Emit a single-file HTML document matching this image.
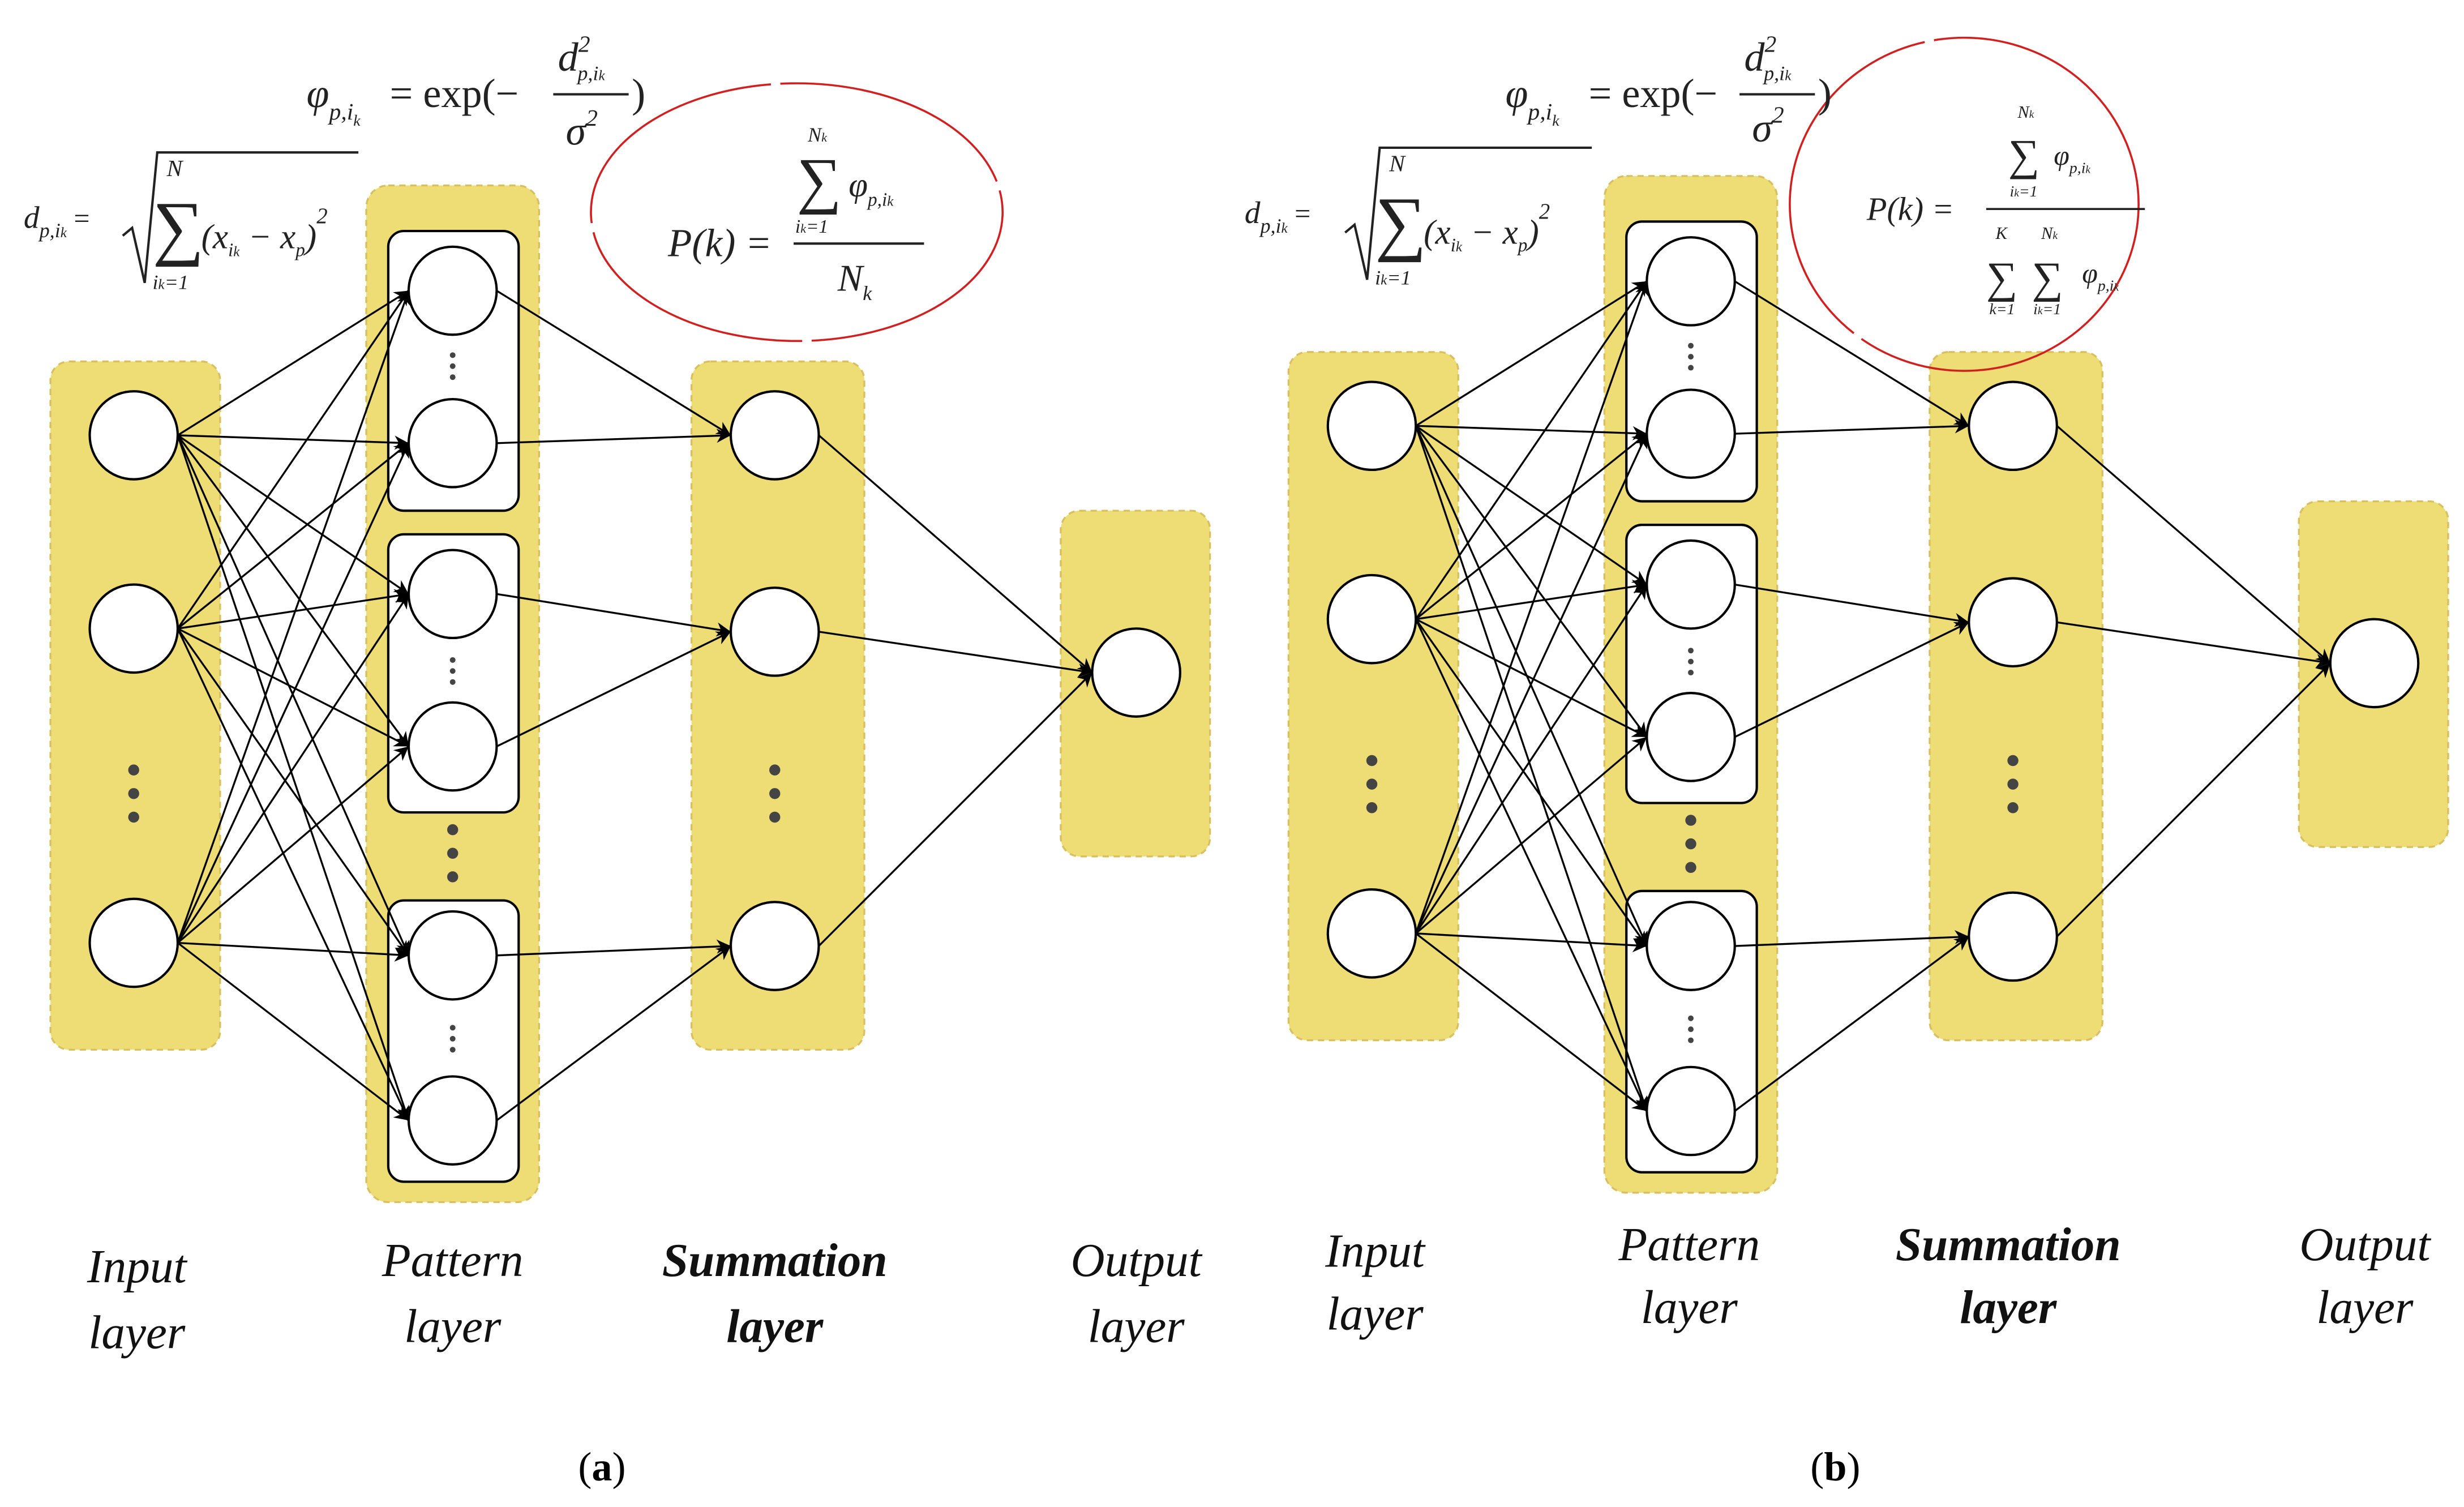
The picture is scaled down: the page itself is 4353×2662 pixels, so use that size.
<!DOCTYPE html>
<html><head><meta charset="utf-8"><style>html,body{margin:0;padding:0;background:#fff}svg{display:block}</style></head>
<body>
<svg width="4353" height="2662" viewBox="0 0 1568 959" xmlns="http://www.w3.org/2000/svg" font-family="Liberation Serif, serif">
<defs>
<marker id="a" viewBox="0 0 10 10" refX="10" refY="5" markerWidth="9" markerHeight="9" markerUnits="userSpaceOnUse" orient="auto"><path d="M0,0 L10,5 L0,10 L3,5 z" fill="#000"/></marker>
</defs>
<g id="ga">
<!-- yellow rects -->
<g fill="#EEDC74" stroke="#D8C060" stroke-dasharray="4,3" stroke-width="1.2">
<rect x="32" y="230" width="108" height="438" rx="12"/>
<rect x="233" y="118" width="110" height="647" rx="14"/>
<rect x="440" y="230" width="110" height="438" rx="12"/>
<rect x="675" y="325" width="95" height="220" rx="12"/>
</g>
<g fill="#fff" stroke="#000" stroke-width="1.5">
<rect x="247" y="147" width="83" height="178" rx="10"/>
<rect x="247" y="340" width="83" height="177" rx="10"/>
<rect x="247" y="573" width="83" height="179" rx="10"/>
</g>
<g stroke="#000" stroke-width="1.2" marker-end="url(#a)">
<line x1="113" y1="277" x2="260" y2="185"/><line x1="113" y1="277" x2="260" y2="282"/><line x1="113" y1="277" x2="260" y2="378"/><line x1="113" y1="277" x2="260" y2="475"/><line x1="113" y1="277" x2="260" y2="608"/><line x1="113" y1="277" x2="260" y2="713"/>
<line x1="113" y1="400" x2="260" y2="185"/><line x1="113" y1="400" x2="260" y2="282"/><line x1="113" y1="400" x2="260" y2="378"/><line x1="113" y1="400" x2="260" y2="475"/><line x1="113" y1="400" x2="260" y2="608"/><line x1="113" y1="400" x2="260" y2="713"/>
<line x1="113" y1="600" x2="260" y2="185"/><line x1="113" y1="600" x2="260" y2="282"/><line x1="113" y1="600" x2="260" y2="378"/><line x1="113" y1="600" x2="260" y2="475"/><line x1="113" y1="600" x2="260" y2="608"/><line x1="113" y1="600" x2="260" y2="713"/>
<line x1="316" y1="185" x2="465" y2="277"/><line x1="316" y1="282" x2="465" y2="277"/>
<line x1="316" y1="378" x2="465" y2="402"/><line x1="316" y1="475" x2="465" y2="402"/>
<line x1="316" y1="608" x2="465" y2="602"/><line x1="316" y1="713" x2="465" y2="602"/>
<line x1="521" y1="277" x2="695" y2="428"/><line x1="521" y1="402" x2="695" y2="428"/><line x1="521" y1="602" x2="695" y2="428"/>
</g>
<g fill="#fff" stroke="#000" stroke-width="1.5">
<circle cx="85" cy="277" r="28"/><circle cx="85" cy="400" r="28"/><circle cx="85" cy="600" r="28"/>
<circle cx="288" cy="185" r="28"/><circle cx="288" cy="282" r="28"/><circle cx="288" cy="378" r="28"/><circle cx="288" cy="475" r="28"/><circle cx="288" cy="608" r="28"/><circle cx="288" cy="713" r="28"/>
<circle cx="493" cy="277" r="28"/><circle cx="493" cy="402" r="28"/><circle cx="493" cy="602" r="28"/>
<circle cx="723" cy="428" r="28"/>
</g>
<g fill="#444">
<circle cx="85" cy="490" r="3.5"/><circle cx="85" cy="505" r="3.5"/><circle cx="85" cy="520" r="3.5"/>
<circle cx="493" cy="490" r="3.5"/><circle cx="493" cy="505" r="3.5"/><circle cx="493" cy="520" r="3.5"/>
<circle cx="288" cy="528" r="3.5"/><circle cx="288" cy="543" r="3.5"/><circle cx="288" cy="558" r="3.5"/>
<circle cx="288" cy="226" r="1.8"/><circle cx="288" cy="233" r="1.8"/><circle cx="288" cy="240" r="1.8"/>
<circle cx="288" cy="420" r="1.8"/><circle cx="288" cy="427" r="1.8"/><circle cx="288" cy="434" r="1.8"/>
<circle cx="288" cy="654" r="1.8"/><circle cx="288" cy="661" r="1.8"/><circle cx="288" cy="668" r="1.8"/>
</g>
</g>
<use href="#ga" transform="translate(788,-6)"/>
<!-- labels -->
<g font-style="italic" font-size="30" text-anchor="middle" fill="#111">
<text x="87" y="816">Input</text><text x="87" y="858">layer</text>
<text x="288" y="812">Pattern</text><text x="288" y="854">layer</text>
<text x="493" y="812" font-weight="bold">Summation</text><text x="493" y="854" font-weight="bold">layer</text>
<text x="723" y="812">Output</text><text x="723" y="854">layer</text>
<text x="875" y="806">Input</text><text x="875" y="846">layer</text>
<text x="1075" y="802">Pattern</text><text x="1075" y="842">layer</text>
<text x="1278" y="802" font-weight="bold">Summation</text><text x="1278" y="842" font-weight="bold">layer</text>
<text x="1505" y="802">Output</text><text x="1505" y="842">layer</text>
</g>
<g font-size="26" text-anchor="middle"><text x="383" y="942">(<tspan font-weight="bold">a</tspan>)</text><text x="1168" y="942">(<tspan font-weight="bold">b</tspan>)</text></g>
<!-- formulas a -->
<g fill="#222" font-style="italic">
<ellipse cx="507" cy="135" rx="131" ry="82" fill="none" stroke="#D02020" stroke-width="1.3" stroke-dasharray="160,6"/>
<text x="195" y="68" font-size="26">φ<tspan font-size="15" dy="8">p,i</tspan><tspan font-size="10" dy="4">k</tspan></text>
<text x="248" y="68" font-size="26" font-style="normal">= exp(−</text>
<text x="355" y="45" font-size="26">d<tspan font-size="15" dy="-12">2</tspan><tspan font-size="13" dx="-8" dy="18">p,i</tspan><tspan font-size="9">k</tspan></text>
<line x1="352" y1="60" x2="400" y2="60" stroke="#222" stroke-width="1.5"/>
<text x="360" y="92" font-size="26">σ<tspan font-size="15" dy="-12">2</tspan></text>
<text x="402" y="68" font-size="26" font-style="normal">)</text>
<text x="15" y="145" font-size="20">d<tspan font-size="13" dy="6">p,i</tspan><tspan font-size="9">k</tspan><tspan font-style="normal" font-size="18" dy="-6"> =</tspan></text>
<path d="M78,150 L84,145 L92,180 L100,97 L228,97" fill="none" stroke="#222" stroke-width="1.5"/>
<text x="97" y="160" font-size="46" font-style="normal">∑</text>
<text x="106" y="112" font-size="15">N</text>
<text x="97" y="184" font-size="13">i<tspan font-size="9">k</tspan>=1</text>
<text x="128" y="158" font-size="22">(x<tspan font-size="12" dy="5">i</tspan><tspan font-size="9">k</tspan><tspan dy="-5"> − x</tspan><tspan font-size="12" dy="5">p</tspan><tspan dy="-5">)</tspan><tspan font-size="14" dy="-16">2</tspan></text>
<text x="425" y="163" font-size="25">P(k) =</text>
<text x="507" y="128" font-size="40" font-style="normal">∑</text>
<text x="540" y="125" font-size="22">φ<tspan font-size="12" dy="6">p,i</tspan><tspan font-size="9">k</tspan></text>
<text x="514" y="90" font-size="13">N<tspan font-size="8">k</tspan></text>
<text x="506" y="148" font-size="12">i<tspan font-size="8">k</tspan>=1</text>
<line x1="505" y1="155" x2="588" y2="155" stroke="#222" stroke-width="1.5"/>
<text x="533" y="185" font-size="24">N<tspan font-size="13" dy="6">k</tspan></text>
</g>
<!-- formulas b -->
<g fill="#222" font-style="italic">
<ellipse cx="1250" cy="130" rx="111" ry="106" fill="none" stroke="#D02020" stroke-width="1.3" stroke-dasharray="240,6"/>
<text x="958" y="68" font-size="26">φ<tspan font-size="15" dy="8">p,i</tspan><tspan font-size="10" dy="4">k</tspan></text>
<text x="1011" y="68" font-size="26" font-style="normal">= exp(−</text>
<text x="1110" y="45" font-size="26">d<tspan font-size="15" dy="-12">2</tspan><tspan font-size="13" dx="-8" dy="18">p,i</tspan><tspan font-size="9">k</tspan></text>
<line x1="1107" y1="60" x2="1155" y2="60" stroke="#222" stroke-width="1.5"/>
<text x="1115" y="90" font-size="26">σ<tspan font-size="15" dy="-12">2</tspan></text>
<text x="1157" y="68" font-size="26" font-style="normal">)</text>
<text x="792" y="142" font-size="20">d<tspan font-size="13" dy="6">p,i</tspan><tspan font-size="9">k</tspan><tspan font-style="normal" font-size="18" dy="-6"> =</tspan></text>
<path d="M856,148 L862,143 L870,178 L878,94 L1013,94" fill="none" stroke="#222" stroke-width="1.5"/>
<text x="875" y="157" font-size="46" font-style="normal">∑</text>
<text x="884" y="109" font-size="15">N</text>
<text x="875" y="181" font-size="13">i<tspan font-size="9">k</tspan>=1</text>
<text x="906" y="155" font-size="22">(x<tspan font-size="12" dy="5">i</tspan><tspan font-size="9">k</tspan><tspan dy="-5"> − x</tspan><tspan font-size="12" dy="5">p</tspan><tspan dy="-5">)</tspan><tspan font-size="14" dy="-16">2</tspan></text>
<text x="1188" y="140" font-size="21">P(k) =</text>
<text x="1278" y="108" font-size="28" font-style="normal">∑</text>
<text x="1307" y="105" font-size="18">φ<tspan font-size="10" dy="5">p,i</tspan><tspan font-size="7">k</tspan></text>
<text x="1284" y="75" font-size="11">N<tspan font-size="7">k</tspan></text>
<text x="1279" y="125" font-size="10">i<tspan font-size="7">k</tspan>=1</text>
<line x1="1264" y1="133" x2="1365" y2="133" stroke="#222" stroke-width="1.3"/>
<text x="1264" y="186" font-size="28" font-style="normal">∑</text>
<text x="1293" y="186" font-size="28" font-style="normal">∑</text>
<text x="1325" y="180" font-size="18">φ<tspan font-size="10" dy="5">p,i</tspan><tspan font-size="7">k</tspan></text>
<text x="1270" y="152" font-size="11">K</text>
<text x="1299" y="152" font-size="11">N<tspan font-size="7">k</tspan></text>
<text x="1266" y="200" font-size="10">k=1</text>
<text x="1294" y="200" font-size="10">i<tspan font-size="7">k</tspan>=1</text>
</g>
</svg>
</body></html>
